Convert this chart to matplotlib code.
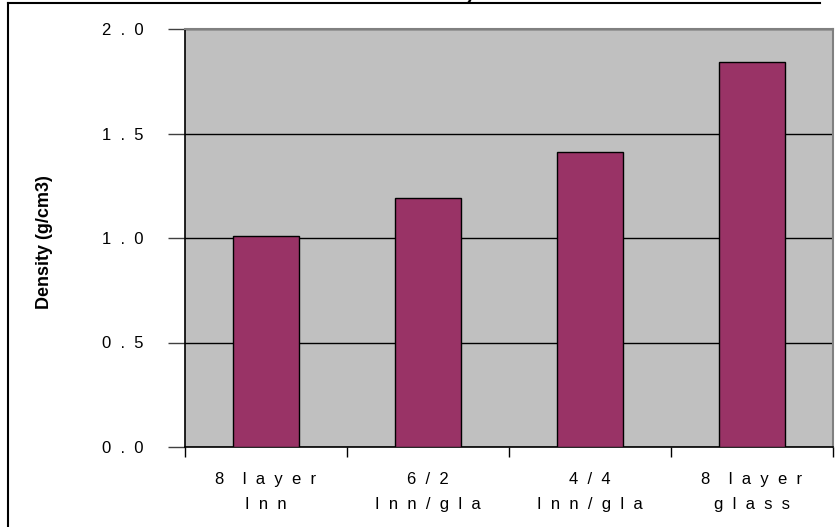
import matplotlib.pyplot as plt
from matplotlib.lines import Line2D
import numpy as np

plt.rcParams['font.family'] = ['Liberation Sans', 'DejaVu Sans']

# density per laminate layup (labels typed with wide letter spacing)
categories = ['8    l  a  y  e  r\nI  n  n',
              '6  /  2\nI  n  n  /  g  l  a',
              '4  /  4\nI  n  n  /  g  l  a',
              '8    l  a  y  e  r\ng  l  a  s  s']
density = [1.01, 1.19, 1.41, 1.84]
yticks = [0.0, 0.5, 1.0, 1.5, 2.0]
ytick_labels = ['0  .  0', '0  .  5', '1  .  0', '1  .  5', '2  .  0']

fig = plt.figure(figsize=(8.39, 5.27), dpi=100)
ax = fig.add_axes([185/839, 1 - 447/527, (833 - 185)/839, (447 - 29)/527])

x = np.arange(len(categories))
ax.set_facecolor('#c0c0c0')
ax.bar(x, density, width=0.41, color='#993366', edgecolor='black', linewidth=1, zorder=3)

ax.set_xlim(-0.5, len(categories) - 0.5)
ax.set_ylim(0, 2.0)
ax.set_yticks(yticks)
ax.set_yticklabels(ytick_labels, fontsize=12)
ax.yaxis.grid(True, color='black', linewidth=1)
ax.set_axisbelow(True)
ax.tick_params(axis='y', length=12, width=1, color='#404040', pad=18)

ax.set_xticks(x)
ax.set_xticklabels(categories, fontsize=12, linespacing=1.85)
ax.set_xticks(np.arange(len(categories) + 1) - 0.5, minor=True)
ax.tick_params(axis='x', which='major', length=0, pad=18)
ax.tick_params(axis='x', which='minor', length=7, width=1, color='black')

for s in ['left', 'bottom']:
    ax.spines[s].set_color('black')
    ax.spines[s].set_linewidth(1.2)
for s in ['top', 'right']:
    ax.spines[s].set_color('#808080')
    ax.spines[s].set_linewidth(1.5)

ax.set_ylabel('Density (g/cm3)', fontsize=13, fontweight='bold')
ax.yaxis.set_label_coords((53 - 185) / 648, 0.49)

fig.text(476/839, 1.0, 'Density', ha='right', va='baseline', fontsize=14, fontweight='bold')

# outer chart frame
fig.add_artist(Line2D([8/839, 8/839], [0, 1 - 3/527], transform=fig.transFigure, color='black', linewidth=1.5))
fig.add_artist(Line2D([8/839, 820/839], [1 - 3/527, 1 - 3/527], transform=fig.transFigure, color='black', linewidth=1.5))

fig.savefig('out.png', dpi=100)
